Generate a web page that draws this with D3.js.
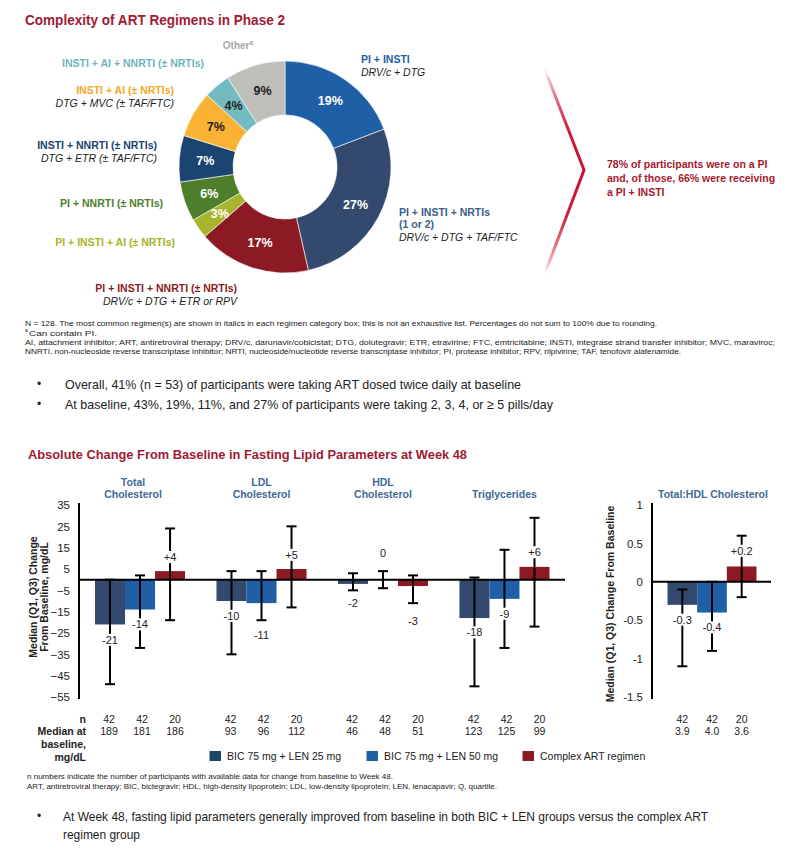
<!DOCTYPE html>
<html><head><meta charset="utf-8">
<script src="https://cdn.jsdelivr.net/npm/d3@7"></script>
<style>
html,body{margin:0;padding:0;background:#fff;}
svg{display:block;font-family:"Liberation Sans",Arial,sans-serif;}
.narrow{font-family:"Liberation Sans Narrow","Arial Narrow","Liberation Sans",sans-serif;}
</style></head>
<body><svg id="c" width="802" height="851"></svg>
<script>
// ---------------- DATA ----------------
const pieCategories = ["PI + INSTI", "PI + INSTI + NRTIs", "PI + INSTI + NNRTI (± NRTIs)", "PI + INSTI + AI (± NRTIs)",
  "PI + NNRTI (± NRTIs)", "INSTI + NNRTI (± NRTIs)", "INSTI + AI (± NRTIs)", "INSTI + AI + NNRTI (± NRTIs)", "Other"];
const piePercents = [19, 27, 17, 3, 6, 7, 7, 4, 9];
const pieExamples = ["DRV/c + DTG", "DRV/c + DTG + TAF/FTC", "DRV/c + DTG + ETR or RPV", "", "", "DTG + ETR (± TAF/FTC)", "DTG + MVC (± TAF/FTC)", "", ""];
const pieColors = ["#1F5FA6", "#34496E", "#8B1A24", "#A9B42E", "#4E7E2C", "#1B4470", "#F9B233", "#72BBC0", "#BEBFB8"];
const pieLabelColors = ["#1F5FA6", "#3B5D8A", "#8B1A24", "#A8B41E", "#4E7E2C", "#1B4470", "#F5A828", "#6DB6BC", "#A8A8A8"];
const piePctDark = [false, false, false, false, false, false, true, true, true];

const lipidGroups = [["Total", "Cholesterol"], ["LDL", "Cholesterol"], ["HDL", "Cholesterol"], ["Triglycerides"]];
const seriesNames = ["BIC 75 mg + LEN 25 mg", "BIC 75 mg + LEN 50 mg", "Complex ART regimen"];
const seriesColors = ["#34496E", "#1F5FA6", "#8B1A24"];
const legendColors = ["#1B4868", "#1F5FA6", "#8B1A24"];
const lipidMedian = [[-21, -14, 4], [-10, -11, 5], [-2, 0, -3], [-18, -9, 6]];
const lipidQ1 = [[-49, -32, -19], [-35, -19, -13], [-5, -4, -11], [-50, -32, -22]];
const lipidQ3 = [[0, 2, 24], [4, 4, 25], [3, 4, 2], [1, 14, 29]];
const lipidN = [[42, 42, 20], [42, 42, 20], [42, 42, 20], [42, 42, 20]];
const lipidBaseline = [["189", "181", "186"], ["93", "96", "112"], ["46", "48", "51"], ["123", "125", "99"]];
const ratioGroup = "Total:HDL Cholesterol";
const ratioMedian = [-0.3, -0.4, 0.2];
const ratioQ1 = [-1.1, -0.9, -0.2];
const ratioQ3 = [-0.1, 0, 0.6];
const ratioN = [42, 42, 20];
const ratioBaseline = ["3.9", "4.0", "3.6"];
const leftTicks = [35, 25, 15, 5, -5, -15, -25, -35, -45, -55];
const rightTicks = [1, 0.5, 0, -0.5, -1, -1.5];

// ---------------- LAYOUT ----------------
const svg = d3.select("#c");
const RED = "#9E1B32";
const TXT = "#222";

function txt(g, x, y, s, o = {}) {
  const t = g.append("text").attr("x", x).attr("y", y).attr("dy", "0.35em").text(s)
    .attr("font-size", o.size || 11).attr("fill", o.fill || TXT)
    .attr("font-weight", o.bold ? "bold" : null).attr("font-style", o.italic ? "italic" : null)
    .attr("text-anchor", o.anchor || "start");
  if (o.cls) t.attr("class", o.cls);
  if (o.len) t.attr("textLength", o.len).attr("lengthAdjust", "spacingAndGlyphs");
  return t;
}

// Title 1
txt(svg, 25, 20, "Complexity of ART Regimens in Phase 2", { size: 14.5, bold: true, fill: RED, len: 260 });

// Donut
const cx = 285, cy = 167, rOut = 106, rIn = 52;
const pie = d3.pie().sort(null).value(d => d)(piePercents);
const arc = d3.arc().innerRadius(rIn).outerRadius(rOut);
const lblArc = d3.arc().innerRadius(80).outerRadius(80);
const gP = svg.append("g").attr("transform", `translate(${cx},${cy})`);
gP.selectAll("path").data(pie).join("path").attr("d", arc)
  .attr("fill", (d, i) => pieColors[i]).attr("stroke", "#fff").attr("stroke-width", 0.6);
gP.selectAll("text.pct").data(pie).join("text").attr("class", "pct")
  .attr("transform", d => `translate(${lblArc.centroid(d)})`)
  .attr("text-anchor", "middle").attr("dy", "0.35em")
  .attr("font-size", 12.5).attr("font-weight", "bold")
  .attr("fill", (d, i) => piePctDark[i] ? "#222" : "#fff")
  .text((d, i) => piePercents[i] + "%");

// Pie callout labels (layout)
const calloutPos = [
  { x: 361, y: 59, a: "start" }, { x: 399, y: 212, a: "start" }, { x: 237, y: 288, a: "end" },
  { x: 175, y: 242, a: "end" }, { x: 163, y: 203, a: "end" }, { x: 157, y: 145, a: "end" },
  { x: 174, y: 90, a: "end" }, { x: 204, y: 63, a: "end" }, { x: 238, y: 45, a: "middle" }
];
pieCategories.forEach((c, i) => {
  const p = calloutPos[i];
  let y = p.y;
  if (i === 8) {
    const t = txt(svg, p.x, y, "Other", { size: 10, bold: true, fill: pieLabelColors[i], anchor: "middle" });
    t.append("tspan").attr("font-size", 6.5).attr("dy", "-0.5em").text("a");
    return;
  }
  if (i === 1) {
    txt(svg, p.x, y, c, { size: 10.5, bold: true, fill: pieLabelColors[i], anchor: p.a });
    y += 12.5;
    txt(svg, p.x, y, "(1 or 2)", { size: 10.5, bold: true, fill: pieLabelColors[i], anchor: p.a });
  } else {
    txt(svg, p.x, y, c, { size: 10.5, bold: true, fill: pieLabelColors[i], anchor: p.a });
  }
  if (pieExamples[i]) {
    y += 13;
    txt(svg, p.x, y, pieExamples[i], { size: 10.5, italic: true, fill: TXT, anchor: p.a });
  }
});

// Chevron
const defs = svg.append("defs");
const grad = defs.append("linearGradient").attr("id", "chev").attr("gradientUnits", "userSpaceOnUse")
  .attr("x1", 0).attr("y1", 66).attr("x2", 0).attr("y2", 277);
[[0, "#ffffff", 0], [0.06, "#F6C0C8", 1], [0.16, "#E46A7E", 1], [0.3, "#CC1F3B", 1], [0.5, "#C8102E", 1], [0.7, "#CC1F3B", 1], [0.84, "#E46A7E", 1], [0.94, "#F6C0C8", 1], [1, "#ffffff", 0]]
  .forEach(s => grad.append("stop").attr("offset", s[0]).attr("stop-color", s[1]).attr("stop-opacity", s[2]));
svg.append("path").attr("d", "M544,67 L584,170 L544,276").attr("fill", "none")
  .attr("stroke", "url(#chev)").attr("stroke-width", 3).attr("stroke-linejoin", "miter");
["78% of participants were on a PI", "and, of those, 66% were receiving", "a PI + INSTI"].forEach((s, i) =>
  txt(svg, 607, 164 + i * 14, s, { size: 10.5, bold: true, fill: "#A6192E" }));

// Footnotes 1
const fn1 = [
  ["N = 128. The most common regimen(s) are shown in italics in each regimen category box; this is not an exhaustive list. Percentages do not sum to 100% due to rounding.", 632],
  ["Can contain PI.", 68],
  ["AI, attachment inhibitor; ART, antiretroviral therapy; DRV/c, darunavir/cobicistat; DTG, dolutegravir; ETR, etravirine; FTC, emtricitabine; INSTI, integrase strand transfer inhibitor; MVC, maraviroc;", 750],
  ["NNRTI, non-nucleoside reverse transcriptase inhibitor; NRTI, nucleoside/nucleotide reverse transcriptase inhibitor; PI, protease inhibitor; RPV, rilpivirine; TAF, tenofovir alafenamide.", 656]
];
const fnY = [323, 333, 342, 351];
fn1.forEach((f, i) => {
  if (i === 1) {
    svg.append("text").attr("x", 25).attr("y", fnY[i]).attr("dy", "-0.15em").attr("font-size", 5).attr("fill", TXT).text("a");
    txt(svg, 29, fnY[i], f[0], { size: 7.5, cls: "narrow", len: f[1] });
  } else txt(svg, 25, fnY[i], f[0], { size: 7.5, cls: "narrow", len: f[1] });
});

// Bullets 1
[["Overall, 41% (n = 53) of participants were taking ART dosed twice daily at baseline", 456, 384],
 ["At baseline, 43%, 19%, 11%, and 27% of participants were taking 2, 3, 4, or \u2265 5 pills/day", 488, 404]]
  .forEach(b => {
    txt(svg, 37, b[2], "\u2022", { size: 12 });
    txt(svg, 65, b[2], b[0], { size: 13.5, cls: "narrow", len: b[1] });
  });

// Title 2
txt(svg, 28, 455, "Absolute Change From Baseline in Fasting Lipid Parameters at Week 48", { size: 12.5, bold: true, fill: RED, len: 439 });

// ---------------- Lipid chart (left) ----------------
const yL = d3.scaleLinear().domain([-55, 35]).range([697, 505]);
const xG = d3.scaleBand().domain(d3.range(lipidGroups.length)).range([95, 549.5]).paddingInner(0.2587).paddingOuter(0);
const xB = d3.scaleBand().domain([0, 1, 2]).range([0, xG.bandwidth()]).padding(0);
const yR = d3.scaleLinear().domain([-1.5, 1]).range([697, 505]);
const xRB = d3.scaleBand().domain([0, 1, 2]).range([667.5, 756.5]).padding(0);
const HDR = "#3F6996";

// axes
const axL = svg.append("g").attr("transform", "translate(79,0)")
  .call(d3.axisLeft(yL).tickValues(leftTicks).tickSize(0).tickPadding(9).tickFormat(d3.format("d")));
axL.select(".domain").attr("stroke", "#000").attr("stroke-width", 2).attr("d", "M0,503V699");
axL.selectAll("text").attr("font-size", 11.5).attr("fill", TXT).attr("font-family", "Liberation Sans, Arial, sans-serif");
const axR = svg.append("g").attr("transform", "translate(652,0)")
  .call(d3.axisLeft(yR).tickValues(rightTicks).tickSize(0).tickPadding(9).tickFormat(d => String(d)));
axR.select(".domain").attr("stroke", "#000").attr("stroke-width", 2).attr("d", "M0,503V699");
axR.selectAll("text").attr("font-size", 11.5).attr("fill", TXT).attr("font-family", "Liberation Sans, Arial, sans-serif");

// axis titles
const tL = svg.append("text").attr("transform", "translate(33,597) rotate(-90)").attr("text-anchor", "middle")
  .attr("font-size", 10.5).attr("font-weight", "bold").attr("fill", TXT);
tL.append("tspan").attr("x", 0).attr("dy", "0.35em").text("Median (Q1, Q3) Change");
tL.append("tspan").attr("x", 0).attr("dy", "1.05em").text("From Baseline, mg/dL");
svg.append("text").attr("transform", "translate(610,604) rotate(-90)").attr("text-anchor", "middle").attr("dy", "0.35em")
  .attr("font-size", 10.5).attr("font-weight", "bold").attr("fill", TXT).text("Median (Q1, Q3) Change From Baseline");

// group headers
lipidGroups.forEach((g, i) => {
  const c = xG(i) + xG.bandwidth() / 2 + (i === 0 ? -7 : 0);
  if (g.length === 2) {
    txt(svg, c, 482, g[0], { size: 10.5, bold: true, fill: HDR, anchor: "middle" });
    txt(svg, c, 494, g[1], { size: 10.5, bold: true, fill: HDR, anchor: "middle" });
  } else txt(svg, c, 494, g[0], { size: 10.5, bold: true, fill: HDR, anchor: "middle" });
});
txt(svg, 713, 494, ratioGroup, { size: 10.5, bold: true, fill: HDR, anchor: "middle" });

const fmt = v => v > 0 ? "+" + v : String(v);
// label offsets in px (layout tweaks for readability)
const lipidLabelDy = [[15.5, 15, -14], [15, 32, -14], [19.5, -27, 35], [14.5, 15, -14.5]];
const ratioLabelDy = [15, 15, -15.5];

function drawChart(groupsMed, groupsQ1, groupsQ3, groupsDy, xPosFn, yS, bw, zx1, zx2) {
  const g = svg.append("g");
  // bars
  groupsMed.forEach((med, gi) => med.forEach((v, i) => {
    g.append("rect").attr("x", xPosFn(gi, i)).attr("y", Math.min(yS(v), yS(0))).attr("width", bw)
      .attr("height", Math.max(Math.abs(yS(v) - yS(0)), 0)).attr("fill", seriesColors[i]);
  }));
  // zero line
  g.append("line").attr("x1", zx1).attr("x2", zx2).attr("y1", yS(0)).attr("y2", yS(0))
    .attr("stroke", "#000").attr("stroke-width", 2);
  // whiskers
  groupsMed.forEach((med, gi) => med.forEach((v, i) => {
    const c = xPosFn(gi, i) + bw / 2;
    const a = yS(groupsQ1[gi][i]), b = yS(groupsQ3[gi][i]);
    g.append("line").attr("x1", c).attr("x2", c).attr("y1", a).attr("y2", b).attr("stroke", "#000").attr("stroke-width", 2);
    [a, b].forEach(yy => g.append("line").attr("x1", c - 5).attr("x2", c + 5).attr("y1", yy).attr("y2", yy)
      .attr("stroke", "#000").attr("stroke-width", 2));
  }));
  // labels
  groupsMed.forEach((med, gi) => med.forEach((v, i) => {
    const c = xPosFn(gi, i) + bw / 2;
    const yy = yS(v) + groupsDy[gi][i];
    const t = txt(g, c, yy, fmt(v), { size: 11, anchor: "middle" });
    const bb = t.node().getBBox();
    g.insert("rect", () => t.node()).attr("x", bb.x - 2).attr("y", bb.y).attr("width", bb.width + 4)
      .attr("height", bb.height).attr("fill", "#fff");
  }));
}

drawChart(lipidMedian, lipidQ1, lipidQ3, lipidLabelDy, (gi, i) => xG(gi) + xB(i), yL, xB.bandwidth(), 79, 565);
drawChart([ratioMedian], [ratioQ1], [ratioQ3], [ratioLabelDy], (gi, i) => xRB(i), yR, xRB.bandwidth(), 652, 771);

// table below
txt(svg, 86, 719, "n", { size: 10.5, bold: true, anchor: "end" });
["Median at", "baseline,", "mg/dL"].forEach((s, i) => txt(svg, 86, 731 + i * 13, s, { size: 10.5, bold: true, anchor: "end" }));
lipidN.forEach((row, gi) => row.forEach((n, i) => {
  const c = xG(gi) + xG.bandwidth() / 2 + (i - 1) * 33 + 2;
  txt(svg, c, 719, String(n), { size: 10.5, anchor: "middle" });
  txt(svg, c, 731, lipidBaseline[gi][i], { size: 10.5, anchor: "middle" });
}));
ratioN.forEach((n, i) => {
  const c = xRB(i) + xRB.bandwidth() / 2;
  txt(svg, c, 719, String(n), { size: 10.5, anchor: "middle" });
  txt(svg, c, 731, ratioBaseline[i], { size: 10.5, anchor: "middle" });
});

// legend
const legX = [209.5, 366.5, 522.5];
seriesNames.forEach((s, i) => {
  svg.append("rect").attr("x", legX[i]).attr("y", 751).attr("width", 11.5).attr("height", 10).attr("fill", legendColors[i]);
  txt(svg, legX[i] + 17.5, 756, s, { size: 10.5 });
});

// footnotes 2
txt(svg, 27, 776, "n numbers indicate the number of participants with available data for change from baseline to Week 48.", { size: 7.5, cls: "narrow", len: 366 });
txt(svg, 27, 786, "ART, antiretroviral therapy; BIC, bictegravir; HDL, high-density lipoprotein; LDL, low-density lipoprotein; LEN, lenacapavir; Q, quartile.", { size: 7.5, cls: "narrow", len: 470 });

// bullet 2
txt(svg, 37, 816, "\u2022", { size: 12 });
txt(svg, 63, 816, "At Week 48, fasting lipid parameters generally improved from baseline in both BIC + LEN groups versus the complex ART", { size: 13.5, cls: "narrow", len: 645 });
txt(svg, 63, 834, "regimen group", { size: 13.5, cls: "narrow", len: 77 });
</script></body></html>
